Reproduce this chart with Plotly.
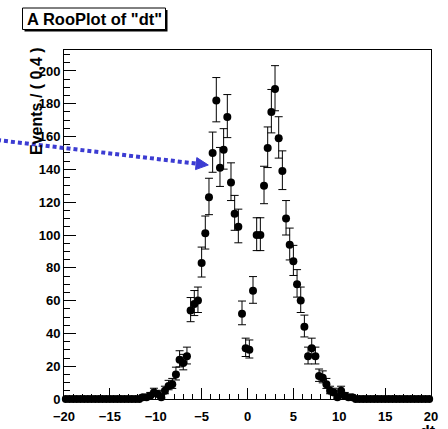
import math
import plotly.graph_objects as go

# ---- data: histogram of dt, 100 bins of width 0.4 from -20 to 20 ----
bin_centers = [
    -19.8, -19.4, -19.0, -18.6, -18.2, -17.8, -17.4, -17.0, -16.6, -16.2,
    -15.8, -15.4, -15.0, -14.6, -14.2, -13.8, -13.4, -13.0, -12.6, -12.2,
    -11.8, -11.4, -11.0, -10.6, -10.2, -9.8, -9.4, -9.0, -8.6, -8.2,
    -7.8, -7.4, -7.0, -6.6, -6.2, -5.8, -5.4, -5.0, -4.6, -4.2,
    -3.8, -3.4, -3.0, -2.6, -2.2, -1.8, -1.4, -1.0, -0.6, -0.2,
    0.2, 0.6, 1.0, 1.4, 1.8, 2.2, 2.6, 3.0, 3.4, 3.8,
    4.2, 4.6, 5.0, 5.4, 5.8, 6.2, 6.6, 7.0, 7.4, 7.8,
    8.2, 8.6, 9.0, 9.4, 9.8, 10.2, 10.6, 11.0, 11.4, 11.8,
    12.2, 12.6, 13.0, 13.4, 13.8, 14.2, 14.6, 15.0, 15.4, 15.8,
    16.2, 16.6, 17.0, 17.4, 17.8, 18.2, 18.6, 19.0, 19.4, 19.8,
]
event_counts = [
    0, 0, 0, 0, 0, 0, 0, 0, 0, 0,
    0, 0, 0, 0, 0, 0, 0, 0, 0, 0,
    0, 1, 1, 2, 4, 3, 1, 5, 8, 9,
    15, 24, 22, 26, 54, 58, 60, 83, 101, 123,
    150, 182, 141, 152, 172, 132, 113, 105, 52, 31,
    30, 66, 100, 100, 130, 153, 175, 189, 159, 139,
    110, 94, 84, 70, 60, 44, 26, 31, 26, 14,
    13, 9, 5, 4, 1, 5, 2, 1, 1, 0,
    0, 0, 0, 0, 0, 0, 0, 0, 0, 0,
    0, 0, 0, 0, 0, 0, 0, 0, 0, 0,
]
x_tick_vals = [-20, -15, -10, -5, 0, 5, 10, 15, 20]
y_tick_vals = [0, 20, 40, 60, 80, 100, 120, 140, 160, 180, 200]

title_text = 'A RooPlot of "dt"'
y_title = "Events / ( 0.4 )"
x_title = "dt"

# Poisson-like asymmetric errors
err_hi = [0.5 + math.sqrt(n + 0.25) for n in event_counts]
err_lo = [-0.5 + math.sqrt(n + 0.25) for n in event_counts]

W, H = 448, 429
L, R, T, B = 64, 17, 50, 30
PW, PH = W - L - R, H - T - B


def px(xp):
    return (xp - L) / PW


def py(yp):
    return (H - B - yp) / PH


fig = go.Figure()
fig.add_trace(go.Scatter(
    x=bin_centers, y=event_counts, mode="markers",
    marker=dict(color="black", size=8, symbol="circle"),
    error_y=dict(type="data", symmetric=False, array=err_hi, arrayminus=err_lo,
                 color="black", thickness=1, width=4),
    cliponaxis=False, showlegend=False, hoverinfo="x+y",
))

axis_common = dict(
    showgrid=False, zeroline=False, showline=True, linecolor="black",
    linewidth=1, mirror=True, ticks="inside", tickcolor="black", automargin=False,
    tickfont=dict(family="Liberation Sans", size=13, color="black", weight="bold"),
)
fig.update_xaxes(range=[-20, 20], tickvals=x_tick_vals, ticklen=11,
                 ticklabelstandoff=5,
                 minor=dict(ticks="inside", ticklen=5, dtick=1, tickcolor="black"),
                 **axis_common)
fig.update_yaxes(range=[0, 212.8], tickvals=y_tick_vals, ticklen=12,
                 ticksuffix="\u2009",
                 minor=dict(ticks="inside", ticklen=6, dtick=5, tickcolor="black"),
                 **axis_common)

shapes = []
# title box shadow + box
shapes.append(dict(type="rect", xref="paper", yref="paper",
                   x0=px(24.5), x1=px(167.5), y0=py(10), y1=py(31.5),
                   fillcolor="black", line=dict(width=0), layer="above"))
shapes.append(dict(type="rect", xref="paper", yref="paper",
                   x0=px(22.5), x1=px(165.5), y0=py(8), y1=py(29.5),
                   fillcolor="white", line=dict(color="black", width=1), layer="above"))
# dotted arrow shaft
arrow_col = "#3c3cd2"
shapes.append(dict(type="line", xref="paper", yref="paper",
                   x0=px(-3), y0=py(140), x1=px(196), y1=py(163.6),
                   line=dict(color=arrow_col, width=4, dash="4px,3px"), layer="above"))
# arrow head
tip = (208.3, 165.0)
b1 = (195.5, 169.6)
b2 = (196.8, 157.6)
path = "M {} {} L {} {} L {} {} Z".format(px(tip[0]), py(tip[1]), px(b1[0]), py(b1[1]),
                                          px(b2[0]), py(b2[1]))
shapes.append(dict(type="path", xref="paper", yref="paper", path=path,
                   fillcolor=arrow_col, line=dict(color=arrow_col, width=1), layer="above"))

annotations = [
    dict(text=title_text, xref="paper", yref="paper", x=px(25), y=py(18.5),
         xanchor="left", yanchor="middle", showarrow=False,
         font=dict(family="Liberation Sans", size=16.5, color="black", weight="bold")),
    dict(text=y_title, xref="paper", yref="paper", x=px(36), y=py(101),
         xanchor="center", yanchor="middle", textangle=-90, showarrow=False,
         font=dict(family="Liberation Sans", size=16, color="black", weight="bold")),
    dict(text=x_title, xref="paper", yref="paper", x=px(438), y=py(421),
         xanchor="right", yanchor="top", showarrow=False,
         font=dict(family="Liberation Sans", size=16, color="black", weight="bold")),
]

fig.update_layout(
    width=W, height=H, autosize=False,
    margin=dict(l=L, r=R, t=T, b=B, pad=0),
    paper_bgcolor="white", plot_bgcolor="white",
    shapes=shapes, annotations=annotations, showlegend=False,
)
fig.write_html("out.html", config={"displayModeBar": False},
               post_script="document.body.style.margin='0px';document.body.style.overflow='hidden';")
